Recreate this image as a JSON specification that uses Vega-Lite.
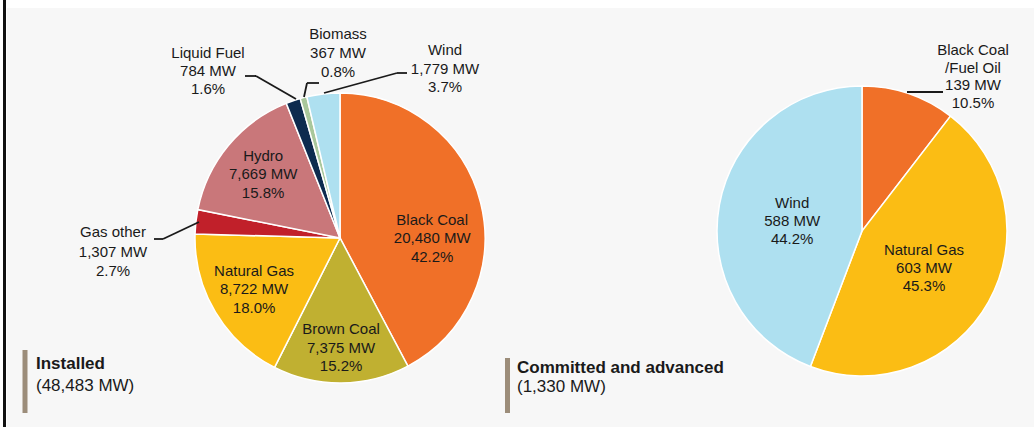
{
  "$schema": "https://vega.github.io/schema/vega-lite/v6.json",
  "width": 1027,
  "height": 419,
  "autosize": {"type": "none"},
  "padding": {"left": 7, "top": 8, "right": 0, "bottom": 0},
  "background": "#ffffff",
  "config": {
    "view": {"fill": "#f7f7f7", "stroke": null},
    "text": {"font": "Liberation Sans", "color": "#1a1a1a"}
  },
  "datasets": {
    "installed": [
      {"cat": "Black Coal", "mw": 20480, "ord": 1, "label": ["Black Coal", "20,480 MW", "42.2%"]},
      {"cat": "Brown Coal", "mw": 7375, "ord": 2, "label": ["Brown Coal", "7,375 MW", "15.2%"]},
      {"cat": "Natural Gas", "mw": 8722, "ord": 3, "label": ["Natural Gas", "8,722 MW", "18.0%"]},
      {"cat": "Gas other", "mw": 1307, "ord": 4, "label": ["Gas other", "1,307 MW", "2.7%"]},
      {"cat": "Hydro", "mw": 7669, "ord": 5, "label": ["Hydro", "7,669 MW", "15.8%"]},
      {"cat": "Liquid Fuel", "mw": 784, "ord": 6, "label": ["Liquid Fuel", "784 MW", "1.6%"]},
      {"cat": "Biomass", "mw": 367, "ord": 7, "label": ["Biomass", "367 MW", "0.8%"]},
      {"cat": "Wind", "mw": 1779, "ord": 8, "label": ["Wind", "1,779 MW", "3.7%"]}
    ],
    "committed": [
      {"cat": "Black Coal/Fuel Oil", "mw": 139, "ord": 1, "label": ["Black Coal", "/Fuel Oil", "139 MW", "10.5%"]},
      {"cat": "Natural Gas", "mw": 603, "ord": 2, "label": ["Natural Gas", "603 MW", "45.3%"]},
      {"cat": "Wind", "mw": 588, "ord": 3, "label": ["Wind", "588 MW", "44.2%"]}
    ],
    "totals": [
      {"panel": "Installed", "total": "(48,483 MW)"},
      {"panel": "Committed and advanced", "total": "(1,330 MW)"}
    ]
  },
  "layer": [
    {
      "data": {"name": "installed"},
      "encoding": {
        "theta": {"field": "mw", "type": "quantitative", "stack": true},
        "order": {"field": "ord", "type": "quantitative"}
      },
      "layer": [
        {
          "mark": {"type": "arc", "outerRadius": 145, "stroke": "#ffffff", "strokeWidth": 1.5},
          "encoding": {
            "x": {"datum": 340, "type": "quantitative", "scale": {"domain": [7, 1034], "nice": false, "zero": false}, "axis": null},
            "y": {"datum": 238, "type": "quantitative", "scale": {"domain": [427, 8], "nice": false, "zero": false}, "axis": null},
            "color": {
              "field": "cat", "type": "nominal", "legend": null,
              "scale": {
                "domain": ["Black Coal", "Brown Coal", "Natural Gas", "Gas other", "Hydro", "Liquid Fuel", "Biomass", "Wind", "Black Coal/Fuel Oil"],
                "range": ["#f07028", "#c0b031", "#fbbd14", "#c1202a", "#c9777a", "#0d2b4f", "#a9c79b", "#aee0f0", "#f07028"]
              }
            }
          }
        },
        {
          "mark": {"type": "text", "radius": 100, "dy": -18.5, "fontSize": 15, "lineHeight": 18.5, "align": "center", "baseline": "middle"},
          "encoding": {
            "x": {"datum": 340, "type": "quantitative"},
            "y": {"datum": 238, "type": "quantitative"},
            "text": {"condition": {"test": "datum.cat === 'Natural Gas' || datum.cat === 'Hydro'", "field": "label", "type": "nominal"}, "value": ""}
          }
        },
        {
          "mark": {"type": "text", "radius": 110, "dy": -18.5, "fontSize": 15, "lineHeight": 18.5, "align": "center", "baseline": "middle"},
          "encoding": {
            "x": {"datum": 340, "type": "quantitative"},
            "y": {"datum": 238, "type": "quantitative"},
            "text": {"condition": {"test": "datum.cat === 'Brown Coal'", "field": "label", "type": "nominal"}, "value": ""}
          }
        },
        {
          "mark": {"type": "text", "radius": 95, "dy": 4.5, "fontSize": 15, "lineHeight": 18.5, "align": "center", "baseline": "middle"},
          "encoding": {
            "x": {"datum": 340, "type": "quantitative"},
            "y": {"datum": 238, "type": "quantitative"},
            "text": {"condition": {"test": "datum.cat === 'Black Coal'", "field": "label", "type": "nominal"}, "value": ""}
          }
        }
      ]
    },
    {
      "data": {"name": "committed"},
      "encoding": {
        "theta": {"field": "mw", "type": "quantitative", "stack": true},
        "order": {"field": "ord", "type": "quantitative"}
      },
      "layer": [
        {
          "mark": {"type": "arc", "outerRadius": 145, "stroke": "#ffffff", "strokeWidth": 1.5},
          "encoding": {
            "x": {"datum": 862, "type": "quantitative"},
            "y": {"datum": 231, "type": "quantitative"},
            "color": {"field": "cat", "type": "nominal", "legend": null}
          }
        },
        {
          "mark": {"type": "text", "radius": 71, "dy": -15.5, "fontSize": 15, "lineHeight": 18, "align": "center", "baseline": "middle"},
          "encoding": {
            "x": {"datum": 862, "type": "quantitative"},
            "y": {"datum": 231, "type": "quantitative"},
            "text": {"condition": {"test": "datum.cat !== 'Black Coal/Fuel Oil'", "field": "label", "type": "nominal"}, "value": ""}
          }
        }
      ]
    },
    {
      "data": {"name": "installed"},
      "transform": [{"filter": "datum.cat === 'Liquid Fuel'"}],
      "layer": [
        {
          "mark": {"type": "text", "fontSize": 15, "lineHeight": 18, "align": "center", "baseline": "middle"},
          "encoding": {"x": {"datum": 208, "type": "quantitative"}, "y": {"datum": 53, "type": "quantitative"}, "text": {"field": "label", "type": "nominal"}}
        },
        {
          "mark": {"type": "rule", "strokeWidth": 1.8, "color": "#1a1a1a"},
          "encoding": {"x": {"datum": 245, "type": "quantitative"}, "y": {"datum": 76, "type": "quantitative"}, "x2": {"datum": 256}, "y2": {"datum": 76}}
        },
        {
          "mark": {"type": "rule", "strokeWidth": 1.8, "color": "#1a1a1a"},
          "encoding": {"x": {"datum": 256, "type": "quantitative"}, "y": {"datum": 76, "type": "quantitative"}, "x2": {"datum": 296}, "y2": {"datum": 99}}
        }
      ]
    },
    {
      "data": {"name": "installed"},
      "transform": [{"filter": "datum.cat === 'Biomass'"}],
      "layer": [
        {
          "mark": {"type": "text", "fontSize": 15, "lineHeight": 19, "align": "center", "baseline": "middle"},
          "encoding": {"x": {"datum": 338, "type": "quantitative"}, "y": {"datum": 34, "type": "quantitative"}, "text": {"field": "label", "type": "nominal"}}
        },
        {
          "mark": {"type": "rule", "strokeWidth": 1.8, "color": "#1a1a1a"},
          "encoding": {"x": {"datum": 304, "type": "quantitative"}, "y": {"datum": 97, "type": "quantitative"}, "x2": {"datum": 307}, "y2": {"datum": 83}}
        },
        {
          "mark": {"type": "rule", "strokeWidth": 1.8, "color": "#1a1a1a"},
          "encoding": {"x": {"datum": 307, "type": "quantitative"}, "y": {"datum": 83, "type": "quantitative"}, "x2": {"datum": 319}, "y2": {"datum": 83}}
        }
      ]
    },
    {
      "data": {"name": "installed"},
      "transform": [{"filter": "datum.cat === 'Wind'"}],
      "layer": [
        {
          "mark": {"type": "text", "fontSize": 15, "lineHeight": 18.5, "align": "center", "baseline": "middle"},
          "encoding": {"x": {"datum": 445, "type": "quantitative"}, "y": {"datum": 50, "type": "quantitative"}, "text": {"field": "label", "type": "nominal"}}
        },
        {
          "mark": {"type": "rule", "strokeWidth": 1.8, "color": "#1a1a1a"},
          "encoding": {"x": {"datum": 324, "type": "quantitative"}, "y": {"datum": 93, "type": "quantitative"}, "x2": {"datum": 397}, "y2": {"datum": 73}}
        },
        {
          "mark": {"type": "rule", "strokeWidth": 1.8, "color": "#1a1a1a"},
          "encoding": {"x": {"datum": 397, "type": "quantitative"}, "y": {"datum": 73, "type": "quantitative"}, "x2": {"datum": 407}, "y2": {"datum": 73}}
        }
      ]
    },
    {
      "data": {"name": "installed"},
      "transform": [{"filter": "datum.cat === 'Gas other'"}],
      "layer": [
        {
          "mark": {"type": "text", "fontSize": 15, "lineHeight": 19.5, "align": "center", "baseline": "middle"},
          "encoding": {"x": {"datum": 113, "type": "quantitative"}, "y": {"datum": 232, "type": "quantitative"}, "text": {"field": "label", "type": "nominal"}}
        },
        {
          "mark": {"type": "rule", "strokeWidth": 1.8, "color": "#1a1a1a"},
          "encoding": {"x": {"datum": 154, "type": "quantitative"}, "y": {"datum": 239, "type": "quantitative"}, "x2": {"datum": 163}, "y2": {"datum": 239}}
        },
        {
          "mark": {"type": "rule", "strokeWidth": 1.8, "color": "#1a1a1a"},
          "encoding": {"x": {"datum": 163, "type": "quantitative"}, "y": {"datum": 239, "type": "quantitative"}, "x2": {"datum": 199}, "y2": {"datum": 222}}
        }
      ]
    },
    {
      "data": {"name": "committed"},
      "transform": [{"filter": "datum.cat === 'Black Coal/Fuel Oil'"}],
      "layer": [
        {
          "mark": {"type": "text", "fontSize": 15, "lineHeight": 17.7, "align": "center", "baseline": "middle"},
          "encoding": {"x": {"datum": 973, "type": "quantitative"}, "y": {"datum": 50, "type": "quantitative"}, "text": {"field": "label", "type": "nominal"}}
        },
        {
          "mark": {"type": "rule", "strokeWidth": 1.8, "color": "#1a1a1a"},
          "encoding": {"x": {"datum": 907, "type": "quantitative"}, "y": {"datum": 92, "type": "quantitative"}, "x2": {"datum": 943}, "y2": {"datum": 92}}
        }
      ]
    },
    {
      "data": {"name": "totals"},
      "transform": [{"filter": "datum.panel === 'Installed'"}],
      "layer": [
        {
          "mark": {"type": "rule", "strokeWidth": 3, "color": "#111111"},
          "encoding": {"x": {"datum": 4.5, "type": "quantitative"}, "y": {"datum": 0, "type": "quantitative"}, "y2": {"datum": 427}}
        },
        {
          "mark": {"type": "rule", "strokeWidth": 5, "color": "#9c8d7a"},
          "encoding": {"x": {"datum": 25, "type": "quantitative"}, "y": {"datum": 350, "type": "quantitative"}, "y2": {"datum": 413}}
        },
        {
          "mark": {"type": "text", "fontSize": 17, "fontWeight": "bold", "align": "left", "baseline": "middle"},
          "encoding": {"x": {"datum": 36, "type": "quantitative"}, "y": {"datum": 364, "type": "quantitative"}, "text": {"field": "panel", "type": "nominal"}}
        },
        {
          "mark": {"type": "text", "fontSize": 17, "align": "left", "baseline": "middle"},
          "encoding": {"x": {"datum": 36, "type": "quantitative"}, "y": {"datum": 386, "type": "quantitative"}, "text": {"field": "total", "type": "nominal"}}
        }
      ]
    },
    {
      "data": {"name": "totals"},
      "transform": [{"filter": "datum.panel === 'Committed and advanced'"}],
      "layer": [
        {
          "mark": {"type": "rule", "strokeWidth": 5, "color": "#9c8d7a"},
          "encoding": {"x": {"datum": 507.5, "type": "quantitative"}, "y": {"datum": 358, "type": "quantitative"}, "y2": {"datum": 413}}
        },
        {
          "mark": {"type": "text", "fontSize": 17, "fontWeight": "bold", "align": "left", "baseline": "middle"},
          "encoding": {"x": {"datum": 517, "type": "quantitative"}, "y": {"datum": 368, "type": "quantitative"}, "text": {"field": "panel", "type": "nominal"}}
        },
        {
          "mark": {"type": "text", "fontSize": 17, "align": "left", "baseline": "middle"},
          "encoding": {"x": {"datum": 517, "type": "quantitative"}, "y": {"datum": 387, "type": "quantitative"}, "text": {"field": "total", "type": "nominal"}}
        }
      ]
    }
  ],
  "resolve": {"scale": {"theta": "independent"}}
}
